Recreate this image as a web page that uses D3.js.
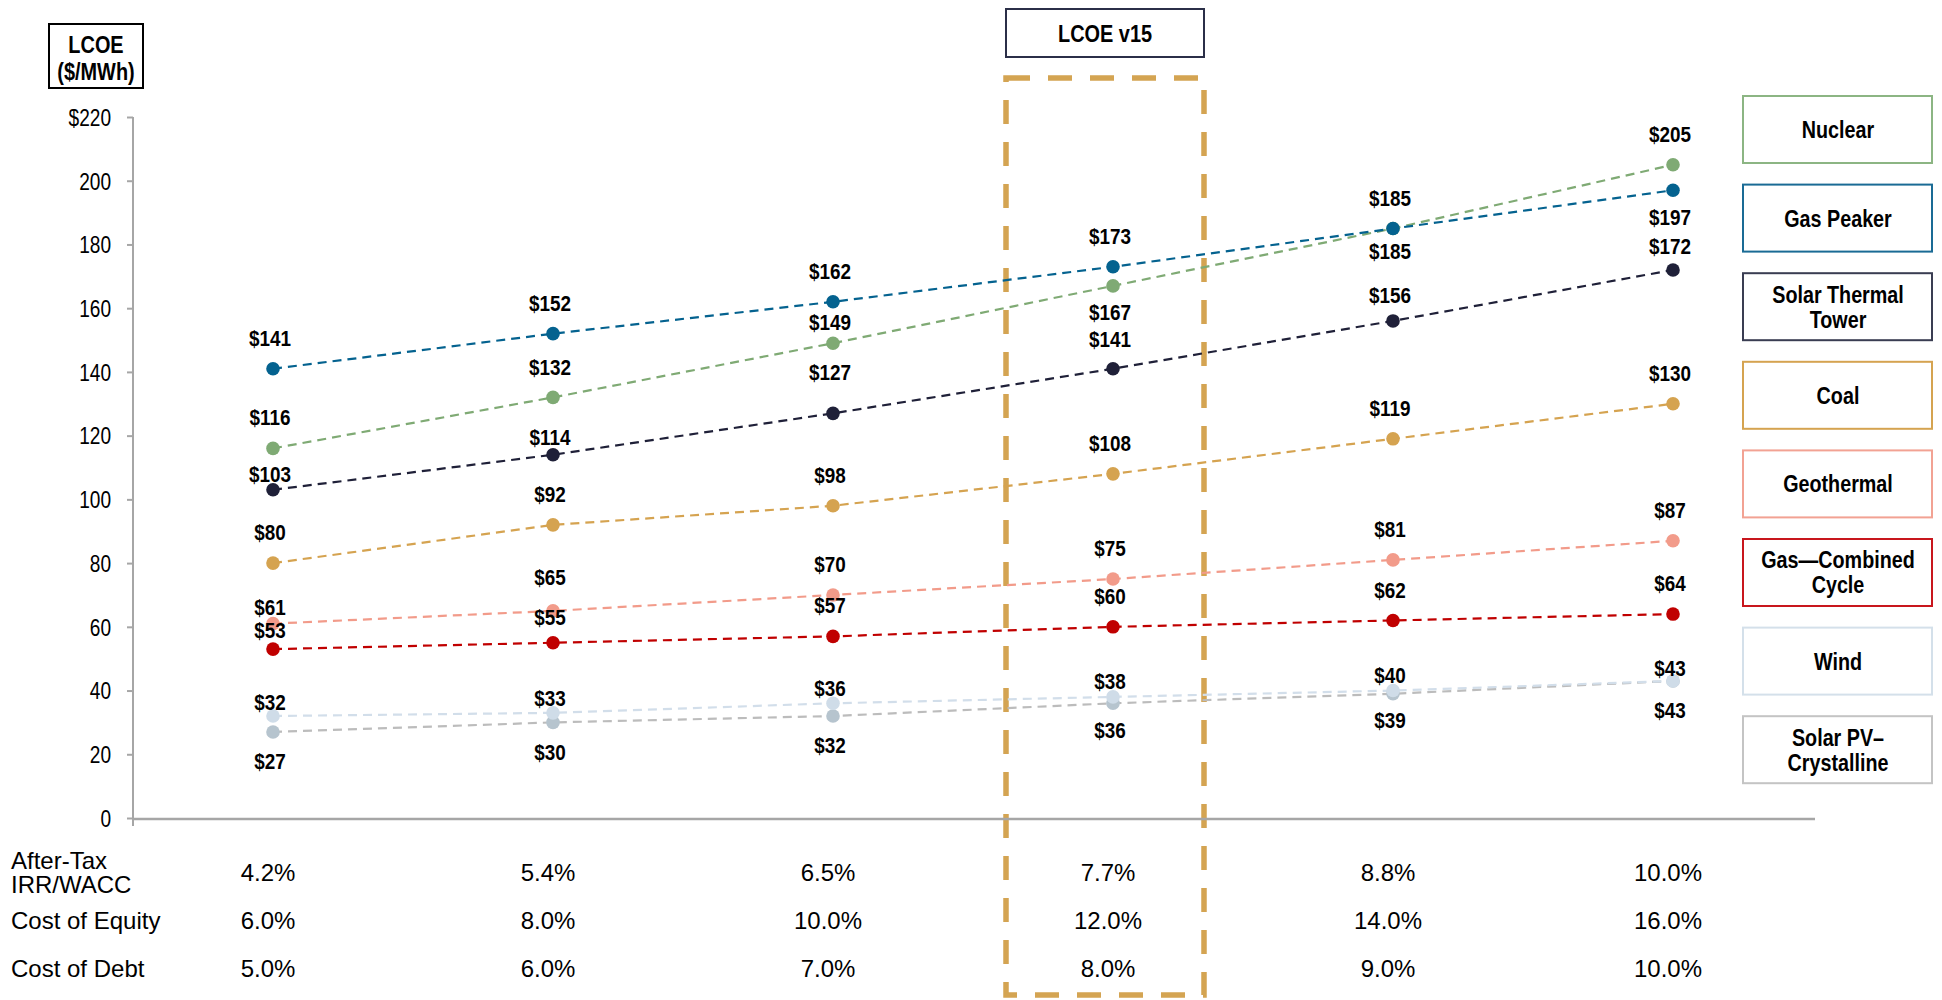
<!DOCTYPE html>
<html>
<head>
<meta charset="utf-8">
<script src="https://cdn.jsdelivr.net/npm/d3@7/dist/d3.min.js"></script>
<style>
  html, body { margin: 0; padding: 0; background: #fff; }
  svg { display: block; }
  text { font-family: "Liberation Sans", Arial, sans-serif; }
</style>
</head>
<body>
<svg id="chart" width="1942" height="1000"></svg>
<script>
// ---------------- DATA ----------------
const irrWacc     = ["4.2%", "5.4%", "6.5%", "7.7%", "8.8%", "10.0%"];
const costEquity  = ["6.0%", "8.0%", "10.0%", "12.0%", "14.0%", "16.0%"];
const costDebt    = ["5.0%", "6.0%", "7.0%", "8.0%", "9.0%", "10.0%"];

const seriesNames = ["Nuclear", "Gas Peaker", "Solar Thermal Tower", "Coal", "Geothermal", "Gas\u2014Combined Cycle", "Wind", "Solar PV\u2013Crystalline"];
const nuclear      = [116, 132, 149, 167, 185, 205];
const gasPeaker    = [141, 152, 162, 173, 185, 197];
const solarThermal = [103, 114, 127, 141, 156, 172];
const coal         = [80, 92, 98, 108, 119, 130];
const geothermal   = [61, 65, 70, 75, 81, 87];
const gasCombined  = [53, 55, 57, 60, 62, 64];
const wind         = [32, 33, 36, 38, 40, 43];
const solarPV      = [27, 30, 32, 36, 39, 43];

const yTicks = [0, 20, 40, 60, 80, 100, 120, 140, 160, 180, 200, 220];
const highlightColumn = "7.7%";
const highlightTitle = "LCOE v15";

// ---------------- STYLE / LAYOUT ----------------
const seriesValues = [nuclear, gasPeaker, solarThermal, coal, geothermal, gasCombined, wind, solarPV];
const legendLines = [["Nuclear"], ["Gas Peaker"], ["Solar Thermal", "Tower"], ["Coal"], ["Geothermal"], ["Gas\u2014Combined", "Cycle"], ["Wind"], ["Solar PV\u2013", "Crystalline"]];
const lineColors   = ["#7faa74", "#04628f", "#1f2038", "#d5a350", "#f29b8a", "#c00000", "#d2deea", "#bcbcbc"];
const markerColors = ["#7faa74", "#04628f", "#1f2038", "#d5a350", "#f29b8a", "#c00000", "#cfdce8", "#b6c4ce"];
const legendBorder = ["#8cb583", "#1a6b95", "#3a3d52", "#d5a350", "#f2a293", "#c8161d", "#d4e0ea", "#c4c4c4"];
const labelSide = {
  "0-3": "b", "0-4": "b", "1-5": "b",
  "7-0": "b", "7-1": "b", "7-2": "b", "7-3": "b", "7-4": "b", "7-5": "b"
};
const labelOffset = {
  "0-2": 21, "0-3": 26, "0-4": 22, "1-5": 27,
  "2-0": 16, "2-1": 18, "2-2": 41, "2-3": 30, "2-4": 26, "2-5": 24,
  "4-0": 17, "4-1": 34, "5-0": 19, "5-1": 26,
  "6-0": 14, "6-1": 15, "6-2": 15, "6-3": 16, "6-4": 16, "6-5": 13,
  "7-3": 27, "7-4": 26
};
const drawOrder = [7, 0, 1, 2, 3, 4, 5, 6];
const NARROW = 0.83;

const svg = d3.select("#chart");
const x = d3.scalePoint().domain(irrWacc).range([273, 1673]);
const y = d3.scaleLinear().domain([0, 220]).range([818, 117]);

// condensed-text helper (Arial Narrow look)
function narrow(parent, px, py, str, size, bold, anchor, sx) {
  return parent.append("text")
    .attr("transform", `translate(${px},${py}) scale(${sx || NARROW},1)`)
    .attr("x", 0).attr("y", 0).attr("dy", "0.36em")
    .attr("text-anchor", anchor || "middle")
    .attr("font-size", size).attr("font-weight", bold ? "bold" : "normal")
    .attr("fill", "#000").text(str);
}

// ---------- highlight dashed box ----------
const hx = x(highlightColumn);
svg.append("rect")
  .attr("x", hx - 107).attr("y", 78)
  .attr("width", 198).attr("height", 917)
  .attr("fill", "none")
  .attr("stroke", "#d4a452").attr("stroke-width", 5.5)
  .attr("stroke-dasharray", "24,18");

svg.append("rect")
  .attr("x", hx - 107).attr("y", 9).attr("width", 198).attr("height", 48)
  .attr("fill", "#fff").attr("stroke", "#2b2f48").attr("stroke-width", 2);
narrow(svg, hx - 8, 33, highlightTitle, 24, true);

// ---------- y-axis title box ----------
svg.append("rect").attr("x", 49).attr("y", 24).attr("width", 94).attr("height", 64)
  .attr("fill", "#fff").attr("stroke", "#000").attr("stroke-width", 2);
narrow(svg, 96, 44, "LCOE", 24, true);
narrow(svg, 96, 71, "($/MWh)", 24, true);

// ---------- axes ----------
const yAxis = d3.axisLeft(y).tickValues(yTicks).tickSize(6).tickSizeOuter(0)
  .tickFormat(d => d === 220 ? "$220" : d3.format("d")(d));
const gy = svg.append("g").attr("transform", "translate(133,0)").call(yAxis);
gy.select(".domain").remove();
gy.selectAll(".tick line").attr("stroke", "#a6a6a6").attr("stroke-width", 2);
gy.selectAll(".tick text")
  .attr("font-size", 23).attr("fill", "#000")
  .attr("x", 0).attr("dy", "0.36em").attr("text-anchor", "end")
  .attr("transform", `translate(-22,0) scale(${NARROW},1)`);
gy.attr("font-family", null).attr("font-size", null);
svg.append("line").attr("x1", 133).attr("x2", 133).attr("y1", y(220)).attr("y2", 826)
  .attr("stroke", "#a6a6a6").attr("stroke-width", 2);
svg.append("line").attr("x1", 133).attr("x2", 1815).attr("y1", 819).attr("y2", 819)
  .attr("stroke", "#a6a6a6").attr("stroke-width", 2.5);

// ---------- series ----------
const line = d3.line().x((d, i) => x(irrWacc[i])).y(d => y(d));
const gLines = svg.append("g");
const gDots = svg.append("g");
drawOrder.forEach(s => {
  gLines.append("path").datum(seriesValues[s])
    .attr("d", line).attr("fill", "none")
    .attr("stroke", lineColors[s]).attr("stroke-width", 2.2)
    .attr("stroke-dasharray", "9,6");
});
drawOrder.forEach(s => {
  gDots.selectAll(null).data(seriesValues[s]).join("circle")
    .attr("cx", (d, i) => x(irrWacc[i])).attr("cy", d => y(d)).attr("r", 6.8)
    .attr("fill", markerColors[s]);
});
const gLabels = svg.append("g");
seriesValues.forEach((vals, s) => {
  vals.forEach((d, i) => {
    const k = s + "-" + i;
    const below = labelSide[k] === "b";
    const off = labelOffset[k] !== undefined ? labelOffset[k] : (below ? 29 : 31);
    narrow(gLabels, x(irrWacc[i]) - 3, y(d) + (below ? off : -off), "$" + d, 22.5, true, "middle", 0.84);
  });
});

// ---------- legend ----------
const gLeg = svg.append("g");
seriesNames.forEach((name, s) => {
  const top = 96 + s * 88.6;
  gLeg.append("rect").attr("x", 1743).attr("y", top).attr("width", 189).attr("height", 67)
    .attr("fill", "#fff").attr("stroke", legendBorder[s]).attr("stroke-width", 2);
  const lines = legendLines[s];
  lines.forEach((ln, j) => {
    narrow(gLeg, 1838, top + 33.5 + (j - (lines.length - 1) / 2) * 25, ln, 23.5, true, "middle", 0.84);
  });
});

// ---------- bottom table ----------
const rows = [
  { label: ["After-Tax", "IRR/WACC"], vals: irrWacc, cy: 872 },
  { label: ["Cost of Equity"], vals: costEquity, cy: 920 },
  { label: ["Cost of Debt"], vals: costDebt, cy: 968 }
];
const gTab = svg.append("g");
rows.forEach(r => {
  const t = gTab.append("text").attr("font-size", 24).attr("fill", "#000");
  r.label.forEach((ln, j) => {
    t.append("tspan").attr("x", 11)
      .attr("y", r.cy + (j - (r.label.length - 1) / 2) * 24).attr("dy", "0.36em").text(ln);
  });
  gTab.selectAll(null).data(r.vals).join("text")
    .attr("x", (d, i) => x(irrWacc[i]) - 5).attr("y", r.cy).attr("dy", "0.36em")
    .attr("text-anchor", "middle").attr("font-size", 24).attr("fill", "#000")
    .text(d => d);
});
</script>
</body>
</html>
